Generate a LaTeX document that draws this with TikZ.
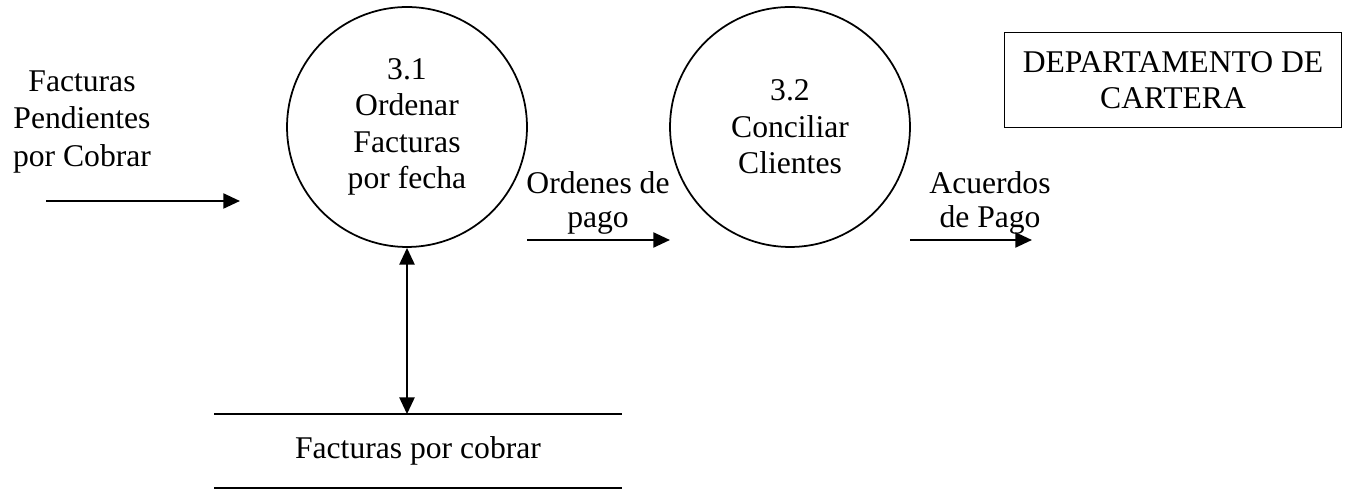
\documentclass[tikz,border=0pt]{standalone}
\usepackage{fontspec}
\setmainfont{Liberation Serif}
\usetikzlibrary{positioning, arrows.meta}

\begin{document}
\begin{tikzpicture}[
    x=0.02cm, y=-0.02cm,
    >={Triangle[length=9.5pt,width=8.5pt]},
    every node/.style={font=\fontsize{18}{20.7}\selectfont},
    process/.style={
        circle,
        draw,
        line width=1pt,
        minimum size=4.8cm,
        inner sep=0pt,
        align=center
    },
    entity/.style={
        rectangle,
        draw,
        line width=1pt,
        minimum width=6.74cm,
        minimum height=1.9cm,
        align=center
    },
    store/.style={
        minimum width=8.14cm,
        minimum height=1.46cm,
        align=center
    },
    flowlabel/.style={align=center},
    arrow/.style={->, line width=1.4pt}
]
\useasboundingbox (0,0) rectangle (1348,492);

% Processes
\node[process] (p1) at (407,127) {3.1\\Ordenar\\Facturas\\por fecha};
\node[process] (p2) at (790,127) {3.2\\Conciliar\\Clientes};

% External entity
\node[entity] (cartera) at (1173,80) {DEPARTAMENTO DE\\CARTERA};

% Data store
\node[store] (facturas) at (418,451) {Facturas por cobrar};
\draw[line width=1pt] (facturas.north west) -- (facturas.north east);
\draw[line width=1pt] (facturas.south west) -- (facturas.south east);

% Free ends of the flows
\coordinate (pendS) at (46,201);
\coordinate (pendE) at (240,201);
\coordinate (ordS) at (527,240);
\coordinate (ordE) at (670,240);
\coordinate (acuS) at (910,240);
\coordinate (acuE) at (1032,240);

% Arrows
\draw[arrow] (pendS) -- (pendE);
\draw[arrow] (ordS) -- (ordE);
\draw[arrow] (acuS) -- (acuE);
\draw[arrow, <->] (p1.south) -- (p1.south |- facturas.north);

% Flow labels
\node[flowlabel, font=\fontsize{18}{21.5}\selectfont] (pendlbl) at (82,122) {Facturas\\Pendientes\\por Cobrar};
\node[flowlabel, font=\fontsize{18}{19.8}\selectfont] (ordlbl) at (598,203) {Ordenes de\\pago};
\node[flowlabel, font=\fontsize{18}{19.8}\selectfont] (aculbl) at (990,203) {Acuerdos\\de Pago};

\end{tikzpicture}
\end{document}
